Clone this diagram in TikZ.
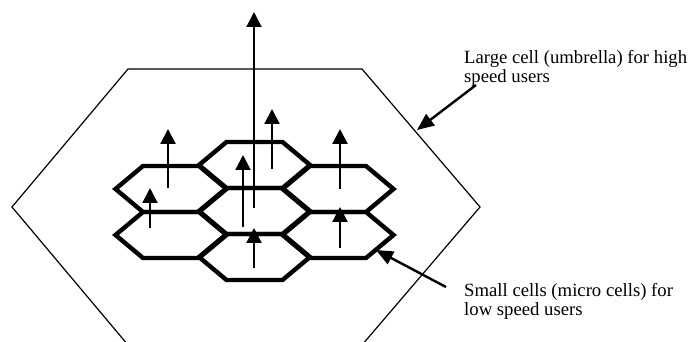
\documentclass[tikz,border=0pt]{standalone}
\usepackage{fontspec}
\setmainfont{Liberation Serif}
\usetikzlibrary{arrows.meta}

\tikzset{
  umbrella/.style={line width=1.2pt, line join=miter},
  cellline/.style={line width=4.4pt, line join=miter},
  user/.style={line width=2.2pt, -{Triangle[width=15pt,length=15pt]}},
  pointer/.style={line width=2.4pt, -{Triangle[width=14pt,length=17pt]}},
  caption/.style={anchor=north west, align=left, inner sep=0pt,
    font=\fontsize{18.7}{19}\selectfont},
  microcell/.pic={
    \draw[cellline] (-55.5,0) -- (-28,23) -- (28,23) -- (55.5,0)
      -- (28,-23) -- (-28,-23) -- cycle;
  }
}

\begin{document}
\begin{tikzpicture}[x=1pt,y=1pt]
\useasboundingbox (0,0) rectangle (690,342);

% the large umbrella cell
\coordinate (L1) at (128,273);
\coordinate (L2) at (362,273);
\coordinate (L3) at (480,135);
\coordinate (L4) at (362,-3);
\coordinate (L5) at (128,-3);
\coordinate (L6) at (12,135);
\draw[umbrella] (L1) -- (L2) -- (L3) -- (L4) -- (L5) -- (L6) -- cycle;

% the cluster of micro cells
\foreach \cx/\cy in {171/153, 171/107, 254.5/177, 254.5/131, 254.5/85, 338/153, 338/107}
  \pic at (\cx,\cy) {microcell};

% users and their directions of motion
\coordinate (u0a) at (254,134); \coordinate (u0b) at (254,330);
\coordinate (u1a) at (168,154); \coordinate (u1b) at (168,213);
\coordinate (u2a) at (150,114); \coordinate (u2b) at (150,154);
\coordinate (u3a) at (243,115); \coordinate (u3b) at (243,187);
\coordinate (u4a) at (272,173); \coordinate (u4b) at (272,233);
\coordinate (u5a) at (340,153); \coordinate (u5b) at (340,213);
\coordinate (u6a) at (340,94);  \coordinate (u6b) at (340,135);
\coordinate (u7a) at (254,74);  \coordinate (u7b) at (254,114);
\draw[user, line width=2pt] (u0a) -- (u0b);
\foreach \u in {1,...,7}
  \draw[user] (u\u a) -- (u\u b);

% captions and their pointers
\node[caption] (bigtxt) at (464,292) {Large cell (umbrella) for high\\speed users};
\node[caption] (smalltxt) at (464,59) {Small cells (micro cells) for\\low speed users};
\coordinate (p1a) at (476,257); \coordinate (p1b) at (417,212);
\coordinate (p2a) at (446,55);  \coordinate (p2b) at (376,92);
\draw[pointer] (p1a) -- (p1b);
\draw[pointer] (p2a) -- (p2b);
\end{tikzpicture}
\end{document}
